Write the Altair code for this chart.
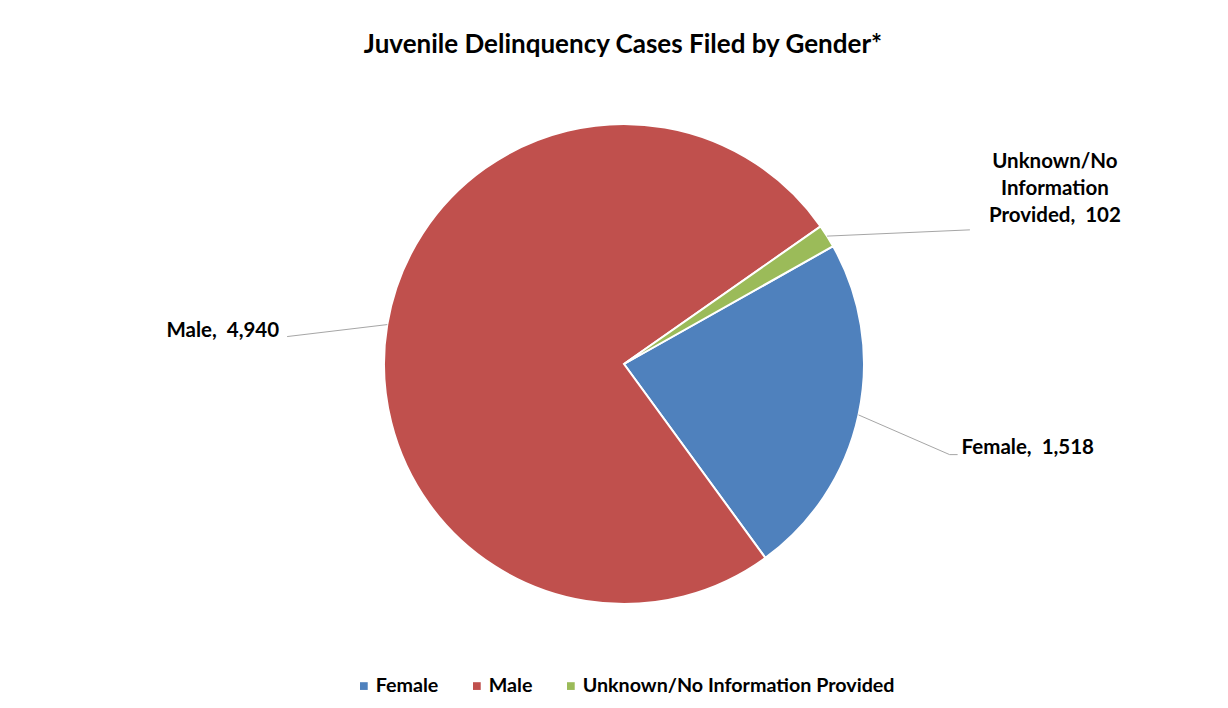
import math
import altair as alt
import pandas as pd

# ---- data ----
categories = ["Female", "Male", "Unknown/No Information Provided"]
cases = [1518, 4940, 102]
label_texts = ["Female,\u00a0 1,518", "Male,\u00a0 4,940", "Unknown/No\nInformation\nProvided,\u00a0 102"]

# ---- style / layout ----
colors = ["#4F81BD", "#C0504D", "#9BBB59"]
label_nudge_deg = [3.3, -4.8, 11.0]      # leader-line elbow angle nudge from slice middle
label_radius = [338, 338, 371]           # leader-line elbow radius
tail_dx = [8, 0, 0]                      # short horizontal tail after elbow
text_dx = [4, -8, 85]
text_dy = [-7, -6, -68]
text_align = ["left", "right", "center"]

FONT = "Lato"
PAD_TOP = 70
W, H = 1212, 692 - PAD_TOP
CX, CY, R = 616, 364 - 8 - PAD_TOP, 240
START = math.radians(60.6)

df = pd.DataFrame({
    "category": categories,
    "cases": cases,
    "label": label_texts,
    "idx": list(range(len(categories))),
    "nudge": label_nudge_deg,
    "lr": label_radius,
    "tail": tail_dx,
    "tdx": text_dx,
    "tdy": text_dy,
    "align": text_align,
})

base = alt.Chart(df)

pie = base.mark_arc(outerRadius=R, stroke="white", strokeWidth=2).encode(
    theta=alt.Theta("cases:Q", stack=True,
                    scale=alt.Scale(range=[START, START + 2 * math.pi], nice=False, zero=True)),
    color=alt.Color("category:N",
                    scale=alt.Scale(domain=categories, range=colors),
                    legend=alt.Legend(
                        title=None, orient="none", direction="horizontal",
                        legendX=346, legendY=598,
                        symbolType="square", symbolSize=60, symbolStrokeWidth=0,
                        labelFont=FONT, labelFontSize=19.7, labelFontWeight="bold",
                        labelColor="#000000", columnPadding=28, labelOffset=2,
                        labelLimit=0,
                    )),
    order=alt.Order("idx:Q"),
    x=alt.value(CX),
    y=alt.value(CY),
)

geo = base.transform_window(
    cum="sum(cases)", sort=[alt.SortField("idx")], frame=[None, 0]
).transform_joinaggregate(
    total="sum(cases)"
).transform_calculate(
    mid=f"{START} + 2*PI*(datum.cum - datum.cases/2)/datum.total"
).transform_calculate(
    ea="datum.mid + datum.nudge*PI/180"
).transform_calculate(
    x0=f"{CX} + {R}*sin(datum.mid)",
    y0=f"{CY} - {R}*cos(datum.mid)",
    x1=f"{CX} + datum.lr*sin(datum.ea)",
    y1=f"{CY} - datum.lr*cos(datum.ea)",
).transform_calculate(
    x2="datum.x1 + datum.tail",
    tx="datum.x1 + datum.tail + datum.tdx",
    ty="datum.y1 + datum.tdy",
)

leader1 = geo.mark_rule(color="#A6A6A6", strokeWidth=1).encode(
    x=alt.X("x0:Q", scale=None, axis=None),
    y=alt.Y("y0:Q", scale=None, axis=None),
    x2="x1:Q",
    y2="y1:Q",
)
leader2 = geo.mark_rule(color="#A6A6A6", strokeWidth=1).encode(
    x=alt.X("x1:Q", scale=None, axis=None),
    y=alt.Y("y1:Q", scale=None, axis=None),
    x2="x2:Q",
    y2="y1:Q",
)

def text_layer(al):
    return geo.transform_filter(f"datum.align == '{al}'").mark_text(
        align=al, baseline="middle", font=FONT, fontSize=20.5, fontWeight="bold",
        color="#000000", lineBreak="\n", lineHeight=27,
    ).encode(
        x=alt.X("tx:Q", scale=None, axis=None),
        y=alt.Y("ty:Q", scale=None, axis=None),
        text="label:N",
    )

chart = alt.layer(
    pie, leader1, leader2, text_layer("left"), text_layer("right"), text_layer("center")
).properties(
    width=W, height=H,
    autosize=alt.AutoSizeParams(type="none"),
    padding={"top": PAD_TOP, "left": 0, "right": 0, "bottom": 0},
    title=alt.Title("Juvenile Delinquency Cases Filed by Gender*",
                    font=FONT, fontSize=26, fontWeight="bold", color="#000000",
                    anchor="middle", offset=20, dx=9),
).configure_view(strokeWidth=0)

chart.save("out.html", embed_options={"renderer": "svg", "actions": False})
